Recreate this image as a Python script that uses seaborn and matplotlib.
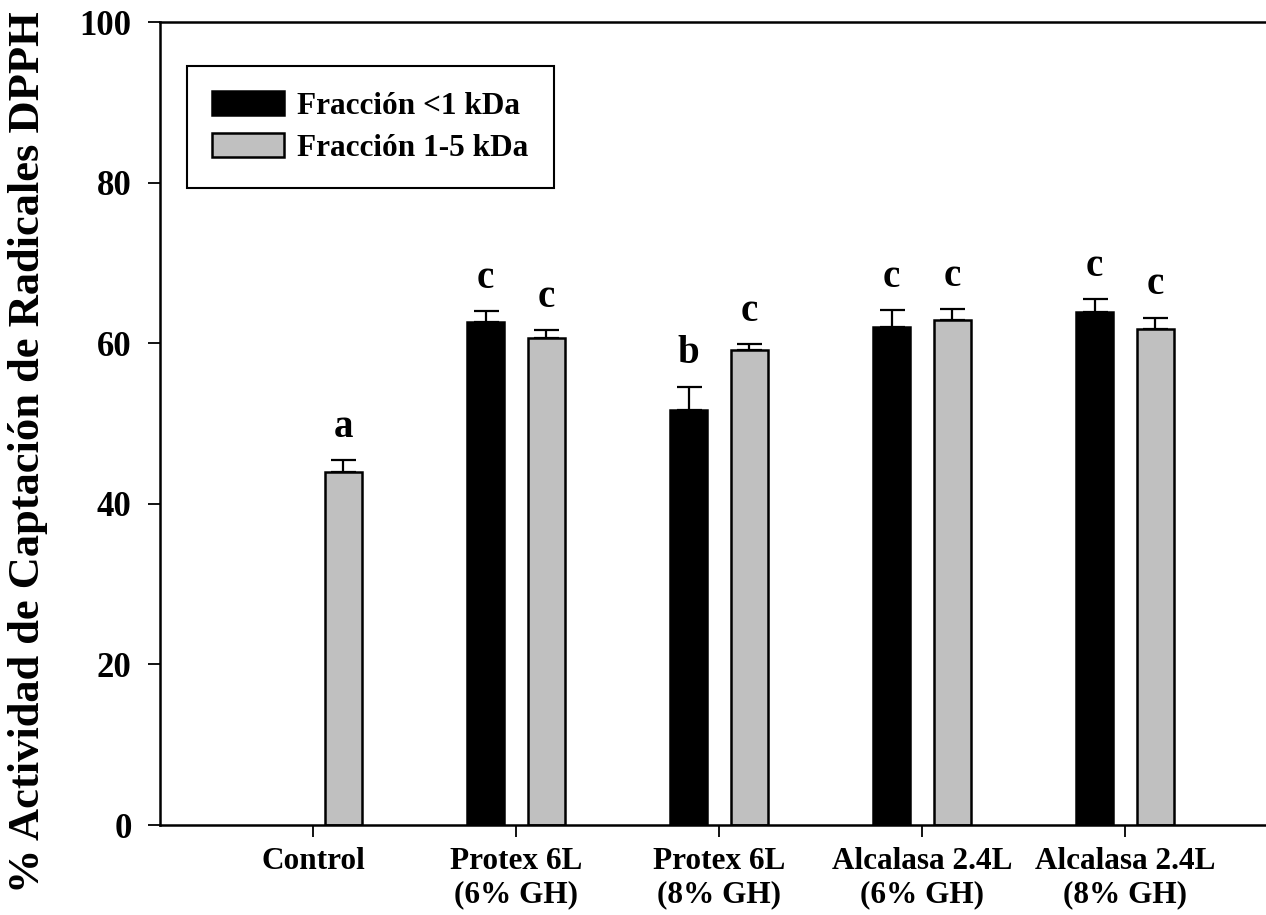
import matplotlib
matplotlib.use("Agg")
import matplotlib.pyplot as plt
import seaborn as sns
import numpy as np
import pandas as pd

categories = ["Control", "Protex 6L\n(6% GH)", "Protex 6L\n(8% GH)",
              "Alcalasa 2.4L\n(6% GH)", "Alcalasa 2.4L\n(8% GH)"]
series_names = ["Fracción <1 kDa", "Fracción 1-5 kDa"]
vals_lt1 = [np.nan, 62.7, 51.7, 62.0, 63.9]
err_lt1 = [np.nan, 1.3, 2.9, 2.1, 1.6]
vals_1_5 = [44.0, 60.7, 59.1, 62.9, 61.8]
err_1_5 = [1.4, 0.9, 0.8, 1.35, 1.35]
letters_lt1 = ["", "c", "b", "c", "c"]
letters_1_5 = ["a", "c", "c", "c", "c"]
yticks = [0, 20, 40, 60, 80, 100]

sns.set_style("ticks")
plt.rcParams['font.family'] = ['Liberation Serif', 'DejaVu Serif']
plt.rcParams['font.weight'] = 'bold'
for k in ["text.color", "axes.labelcolor", "xtick.color", "ytick.color",
          "axes.edgecolor"]:
    plt.rcParams[k] = "black"

df = pd.DataFrame({
    "cat": categories * 2,
    "serie": [series_names[0]] * 5 + [series_names[1]] * 5,
    "val": vals_lt1 + vals_1_5,
})

fig = plt.figure(figsize=(12.66, 9.15), dpi=100)
ax = fig.add_axes([160/1266, 1-825/915, 1118/1266, (825-22)/915])

sns.barplot(data=df, x="cat", y="val", hue="serie", order=categories,
            hue_order=series_names, palette=["#000000", "#C0C0C0"],
            width=0.6, gap=0.393, edgecolor="black", linewidth=1.8,
            errorbar=None, ax=ax, legend=True, saturation=1)

offs = [-0.15, 0.15]
for k, (vals, errs, lets) in enumerate([(vals_lt1, err_lt1, letters_lt1),
                                        (vals_1_5, err_1_5, letters_1_5)]):
    for i in range(len(categories)):
        v, e = vals[i], errs[i]
        if np.isnan(v):
            continue
        x = i + offs[k]
        ax.errorbar(x, v, yerr=[[0], [e]], fmt="none", ecolor="black",
                    elinewidth=1.6, capsize=9, capthick=1.6, zorder=0.5)
        ax.text(x, v + e + 4.1, lets[i], ha="center", va="center",
                fontsize=28, fontweight="bold", color="black")

ax.set_xlim(-0.754, 4.754)
ax.set_ylim(0, 100)
ax.set_yticks(yticks)
ax.set_yticklabels([str(t) for t in yticks])
ax.set_xlabel("")
ax.set_ylabel("")
for s in ["left", "bottom", "top"]:
    ax.spines[s].set_linewidth(1.8)
    ax.spines[s].set_color("black")
ax.spines["right"].set_visible(False)
ax.tick_params(axis="y", direction="out", length=8.5, width=1.3, pad=12,
               labelsize=25, colors="black")
ax.tick_params(axis="x", direction="out", length=8.5, width=1.3, pad=7,
               labelsize=22.5, colors="black")
for lab in ax.get_xticklabels() + ax.get_yticklabels():
    lab.set_fontweight("bold")
for lab in ax.get_xticklabels():
    lab.set_linespacing(1.2)

fig.text(28/1266, 1-452/915, "% Actividad de Captación de Radicales DPPH",
         rotation=90, ha="center", va="center", fontsize=32,
         fontweight="bold", color="black")

leg = ax.legend(loc="upper left", bbox_to_anchor=(187/1266, 1-66/915),
                bbox_transform=fig.transFigure, borderaxespad=0,
                fancybox=False, edgecolor="black", framealpha=1,
                prop={"family": "Liberation Serif", "weight": "bold", "size": 22.5},
                handlelength=2.3, handleheight=0.8, labelspacing=0.38,
                borderpad=0.8, handletextpad=0.43)
leg.get_frame().set_linewidth(1.5)
for t in leg.get_texts():
    t.set_color("black")

fig.savefig("out.png", dpi=100)
